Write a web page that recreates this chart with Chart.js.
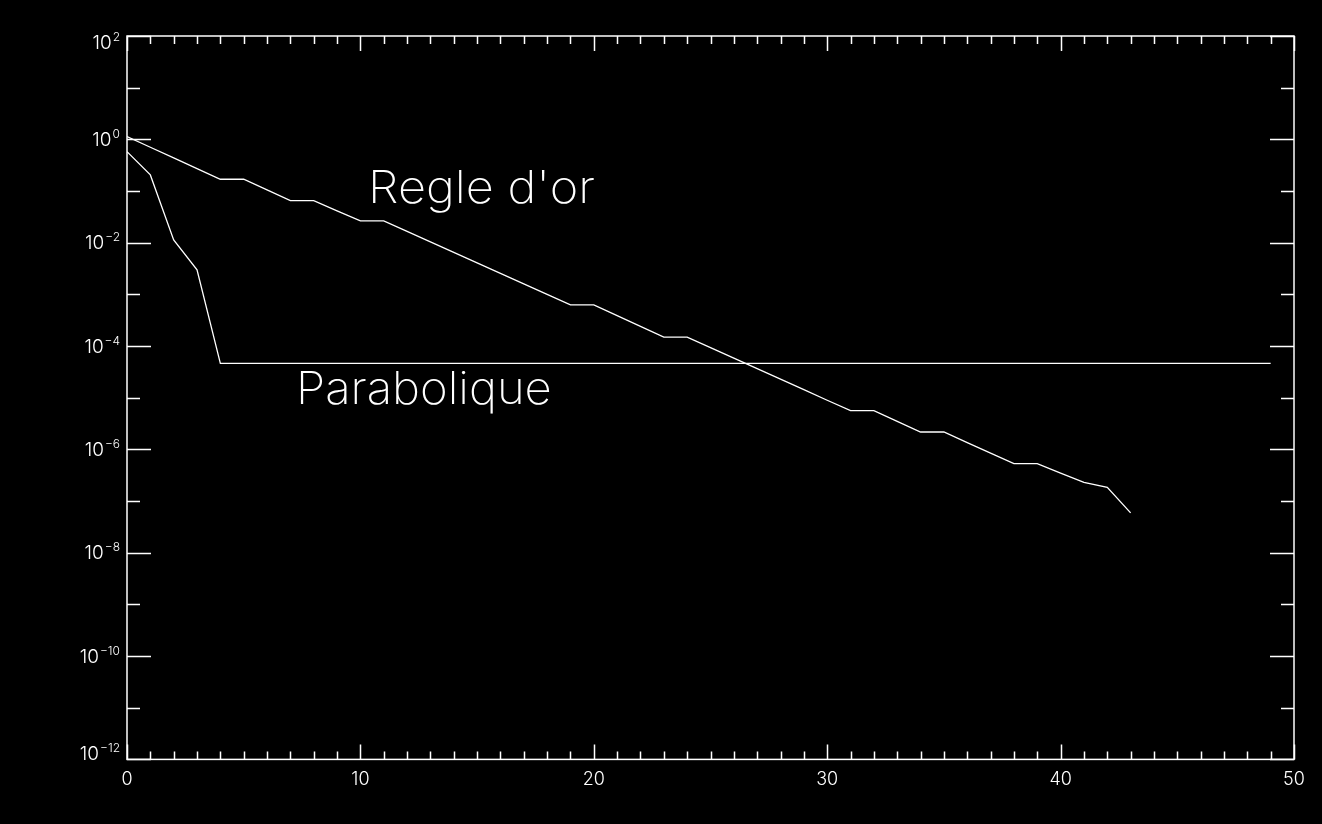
<!DOCTYPE html>
<html>
<head>
<meta charset="utf-8">
<script src="https://cdn.jsdelivr.net/npm/chart.js@4.4.1/dist/chart.umd.min.js"></script>
<style>
  html, body { margin: 0; padding: 0; background: #000; }
  #wrap { width: 1322px; height: 824px; }
</style>
</head>
<body>
<div id="wrap"><canvas id="mycanvas"></canvas></div>
<script>
// iterations (x) and error per iteration
var iterRegle = [0,1,2,3,4,5,6,7,8,9,10,11,12,13,14,15,16,17,18,19,20,21,
                 22,23,24,25,26,27,28,29,30,31,32,33,34,35,36,37,38,39,40,41,42,43];
var regleOr = [1.13,0.703,0.437,0.272,0.169,0.169,0.105,0.0653,0.0653,0.0414,0.0264,0.0264,
               0.0166,0.0104,0.0065,0.00407,0.00255,0.0016,0.001,0.000628,0.000628,0.000388,
               0.000241,0.000149,0.000149,9.33e-5,5.82e-5,3.65e-5,2.29e-5,1.43e-5,8.93e-6,
               5.6e-6,5.6e-6,3.48e-6,2.17e-6,2.17e-6,1.35e-6,8.47e-7,5.28e-7,5.28e-7,
               3.48e-7,2.3e-7,1.84e-7,5.9e-8];

var iterPara = [0,1,2,3,4,5,6,7,8,9,10,11,12,13,14,15,16,17,18,19,20,21,22,23,24,
                25,26,27,28,29,30,31,32,33,34,35,36,37,38,39,40,41,42,43,44,45,46,47,48,49];
var parabolique = [0.578,0.205,0.0113,0.00298,4.6e-5,4.6e-5,4.6e-5,4.6e-5,4.6e-5,4.6e-5,
                   4.6e-5,4.6e-5,4.6e-5,4.6e-5,4.6e-5,4.6e-5,4.6e-5,4.6e-5,4.6e-5,4.6e-5,
                   4.6e-5,4.6e-5,4.6e-5,4.6e-5,4.6e-5,4.6e-5,4.6e-5,4.6e-5,4.6e-5,4.6e-5,
                   4.6e-5,4.6e-5,4.6e-5,4.6e-5,4.6e-5,4.6e-5,4.6e-5,4.6e-5,4.6e-5,4.6e-5,
                   4.6e-5,4.6e-5,4.6e-5,4.6e-5,4.6e-5,4.6e-5,4.6e-5,4.6e-5,4.6e-5,4.6e-5];

// axis ticks
var xMajor = [0,10,20,30,40,50];
var xMinorStep = 1;
var yExponents = [2,1,0,-1,-2,-3,-4,-5,-6,-7,-8,-9,-10,-11,-12];
var yLabelled = [2,0,-2,-4,-6,-8,-10,-12];

// curve names, placed in data coords (left, baseline, right)
var curveNames = ["Regle d'or", "Parabolique"];
var nameLeft = [10.33, 7.24];
var nameRight = [20.05, 18.2];
var nameBase = [0.0597, 7.5e-6];

var FONT = 'Inter, "DejaVu Sans", sans-serif';

function toPoints(xs, ys) {
    var pts = [];
    for (var i = 0; i < xs.length; i++) pts.push({x: xs[i], y: ys[i]});
    return pts;
}

function supers(e) {
    return e < 0 ? '\u2212' + Math.abs(e) : String(e);
}

var idlAxes = {
    id: 'idlAxes',
    beforeDraw: function(chart) {
        var c = chart.ctx;
        c.save();
        c.fillStyle = '#000';
        c.fillRect(0, 0, chart.width, chart.height);
        c.restore();
    },
    afterDraw: function(chart) {
        var c = chart.ctx, a = chart.chartArea;
        var xs = chart.scales.x, ys = chart.scales.y;
        c.save();
        c.strokeStyle = '#fff';
        c.lineWidth = 1.5;
        c.strokeRect(a.left, a.top, a.right - a.left, a.bottom - a.top);

        // x ticks, top and bottom
        c.beginPath();
        for (var v = xs.min; v <= xs.max; v += xMinorStep) {
            var px = Math.round(xs.getPixelForValue(v)) + 0.5;
            var len = xMajor.indexOf(v) >= 0 ? 15 : 8;
            c.moveTo(px, a.bottom); c.lineTo(px, a.bottom - len);
            c.moveTo(px, a.top); c.lineTo(px, a.top + len);
        }
        // y ticks, left and right
        for (var i = 0; i < yExponents.length; i++) {
            var e = yExponents[i];
            var py = Math.round(ys.getPixelForValue(Math.pow(10, e))) + 0.5;
            var ylen = yLabelled.indexOf(e) >= 0 ? 24 : 13;
            c.moveTo(a.left, py); c.lineTo(a.left + ylen, py);
            c.moveTo(a.right, py); c.lineTo(a.right - ylen, py);
        }
        c.stroke();

        // y labels 10^n
        c.fillStyle = '#fff';
        c.textBaseline = 'middle';
        for (var j = 0; j < yLabelled.length; j++) {
            var ex = yLabelled[j];
            var cy = ys.getPixelForValue(Math.pow(10, ex));
            cy = Math.max(a.top + 6, Math.min(a.bottom - 6, cy));
            var right = a.left - 7;
            c.font = '300 12px ' + FONT;
            var sup = supers(ex);
            var sw = c.measureText(sup).width;
            c.textAlign = 'right';
            c.fillText(sup, right, cy - 5);
            c.font = '300 19px ' + FONT;
            c.fillText('10', right - sw - 1, cy + 1);
        }

        // curve names
        c.textAlign = 'left';
        c.textBaseline = 'alphabetic';
        c.font = '200 45px ' + FONT;
        for (var k = 0; k < curveNames.length; k++) {
            var lx = xs.getPixelForValue(nameLeft[k]);
            var rx = xs.getPixelForValue(nameRight[k]);
            var by = ys.getPixelForValue(nameBase[k]);
            var w = c.measureText(curveNames[k]).width;
            c.save();
            c.translate(lx, by);
            c.scale((rx - lx) / w, 1);
            c.fillText(curveNames[k], 0, 0);
            c.restore();
        }
        c.restore();
    }
};

var ctx = document.getElementById('mycanvas');
var chart = new Chart(ctx, {
    type: 'line',
    data: {
        datasets: [
            {
                label: "Regle d'or",
                data: toPoints(iterRegle, regleOr),
                borderColor: '#fff',
                borderWidth: 1.3,
                pointRadius: 0,
                tension: 0
            },
            {
                label: 'Parabolique',
                data: toPoints(iterPara, parabolique),
                borderColor: '#fff',
                borderWidth: 1.3,
                pointRadius: 0,
                tension: 0
            }
        ]
    },
    options: {
        responsive: true,
        maintainAspectRatio: false,
        animation: false,
        events: [],
        layout: { padding: { left: 127, right: 28, top: 36, bottom: 25 } },
        plugins: { legend: { display: false }, tooltip: { enabled: false } },
        scales: {
            x: {
                type: 'linear',
                min: 0,
                max: 50,
                grid: { display: false, drawTicks: false },
                border: { display: false },
                afterBuildTicks: function(axis) {
                    axis.ticks = xMajor.map(function(v) { return {value: v}; });
                },
                ticks: {
                    color: '#fff',
                    padding: 9,
                    maxRotation: 0,
                    autoSkip: false,
                    font: { family: FONT, size: 18, weight: '300' }
                }
            },
            y: {
                type: 'logarithmic',
                min: 1e-12,
                max: 1e2,
                grid: { display: false, drawTicks: false },
                border: { display: false },
                ticks: { display: false }
            }
        }
    },
    plugins: [idlAxes]
});
</script>
</body>
</html>
